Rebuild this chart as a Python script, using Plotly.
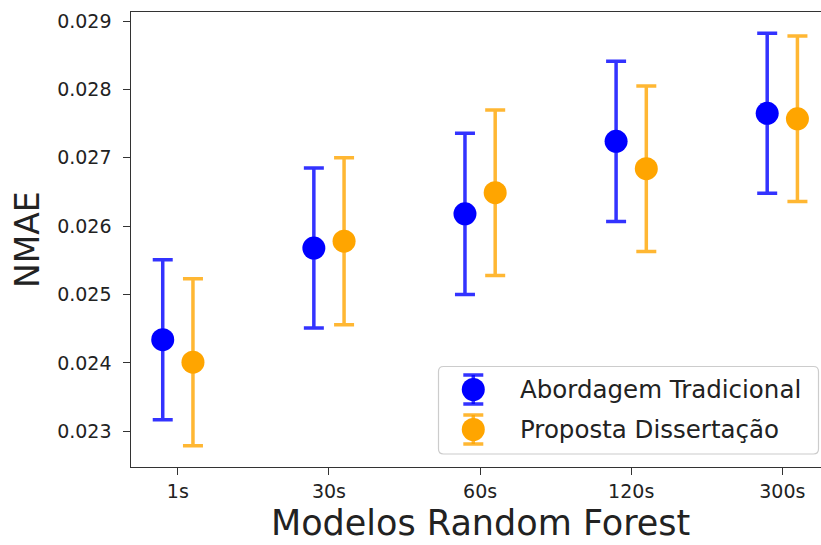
import numpy as np
import plotly.graph_objects as go

# ---- data ----
categories = ["1s", "30s", "60s", "120s", "300s"]
trad_mean = [0.02434, 0.02568, 0.02618, 0.02724, 0.02765]
trad_err = [0.00117, 0.00117, 0.00118, 0.00117, 0.00117]
prop_mean = [0.02401, 0.02578, 0.02649, 0.02684, 0.02757]
prop_err = [0.00122, 0.00122, 0.00121, 0.00121, 0.00121]
series_names = ["Abordagem Tradicional", "Proposta Dissertação"]
y_ticks = [0.023, 0.024, 0.025, 0.026, 0.027, 0.028, 0.029]

BLUE = "#0000ff"
ORANGE = "#ffa500"
BLUE_ERR = "rgba(0,0,255,0.8)"
ORANGE_ERR = "rgba(255,165,0,0.8)"
FONT = "DejaVu Sans"
TXT = "#222222"
AX = "#333333"

idx = np.arange(len(categories))
offset = 0.1

fig = go.Figure()
for name, mean, err, col, ecol, sgn in [
    (series_names[0], trad_mean, trad_err, BLUE, BLUE_ERR, -1),
    (series_names[1], prop_mean, prop_err, ORANGE, ORANGE_ERR, 1),
]:
    fig.add_trace(go.Scatter(
        x=idx + sgn * offset, y=mean, mode="markers", name=name,
        marker=dict(color=col, size=23, line=dict(width=0)),
        error_y=dict(type="data", array=err, visible=True, color=ecol,
                     thickness=3.5, width=10),
        showlegend=False,
    ))

W, H = 821, 545
L, R, T, B = 131, 0, 12, 78
pw, ph = W - L - R, H - T - B


def px_x(p):
    return (p - L) / pw


def px_y(p):
    return 1 - (p - T) / ph


shapes = []
# rounded legend box
x0, x1 = px_x(438.5), px_x(818.5)
y0, y1 = px_y(454), px_y(366.5)
rx, ry = 5 / pw, 5 / ph
path = (f"M {x0+rx},{y1} L {x1-rx},{y1} Q {x1},{y1} {x1},{y1-ry} "
        f"L {x1},{y0+ry} Q {x1},{y0} {x1-rx},{y0} L {x0+rx},{y0} "
        f"Q {x0},{y0} {x0},{y0+ry} L {x0},{y1-ry} Q {x0},{y1} {x0+rx},{y1} Z")
shapes.append(dict(type="path", xref="paper", yref="paper", path=path,
                   fillcolor="rgba(255,255,255,0.8)",
                   line=dict(color="#cccccc", width=1.2), layer="above"))

annotations = []
rows = [(389.5, BLUE, BLUE_ERR), (429.5, ORANGE, ORANGE_ERR)]
for (ry_px, col, ecol), name in zip(rows, series_names):
    xa, ya = px_x(473.3), px_y(ry_px)
    common = dict(xref="paper", yref="paper", xsizemode="pixel",
                  ysizemode="pixel", xanchor=xa, yanchor=ya, layer="above")
    shapes.append(dict(type="line", x0=0, x1=0, y0=-14.5, y1=14.5,
                       line=dict(color=ecol, width=3.5), **common))
    for yy in (-14.5, 14.5):
        shapes.append(dict(type="line", x0=-10, x1=10, y0=yy, y1=yy,
                           line=dict(color=ecol, width=3.5), **common))
    shapes.append(dict(type="circle", x0=-11.5, x1=11.5, y0=-11.5, y1=11.5,
                       fillcolor=col, line=dict(width=0), **common))
    annotations.append(dict(xref="paper", yref="paper", x=px_x(518.3),
                            y=ya, xanchor="left", yanchor="middle",
                            text=name, showarrow=False,
                            font=dict(family=FONT, size=24.5, color=TXT)))

annotations.append(dict(xref="x", yref="paper", x=2.0, y=px_y(544.5),
                        xanchor="center", yanchor="bottom",
                        text="Modelos Random Forest", showarrow=False,
                        font=dict(family=FONT, size=35, color=TXT)))
annotations.append(dict(xref="paper", yref="paper", x=px_x(27.5), y=px_y(239.5),
                        xanchor="center", yanchor="middle", textangle=-90,
                        text="NMAE", showarrow=False,
                        font=dict(family=FONT, size=33, color=TXT)))

fig.update_layout(
    width=W, height=H,
    margin=dict(l=L, r=R, t=T, b=B, pad=0),
    paper_bgcolor="white", plot_bgcolor="white",
    font=dict(family=FONT, color=TXT),
    shapes=shapes, annotations=annotations,
    showlegend=False,
    xaxis=dict(range=[-0.31, 4.256], tickvals=list(idx), ticktext=categories,
               showgrid=False, zeroline=False, showline=True, mirror=True,
               linecolor=AX, linewidth=1.3, ticks="outside", ticklen=6.5,
               tickwidth=1.3, tickcolor=AX, ticklabelstandoff=1,
               tickfont=dict(family=FONT, size=19, color=TXT)),
    yaxis=dict(range=[0.022478, 0.029132], tickvals=y_ticks,
               tickformat=".3f", showgrid=False, zeroline=False,
               showline=True, mirror=False, linecolor=AX, linewidth=1.3,
               ticks="outside", ticklen=6.5, tickwidth=1.3, tickcolor=AX,
               ticklabelstandoff=8,
               tickfont=dict(family=FONT, size=19, color=TXT)),
)

fig.write_html("out.html")
